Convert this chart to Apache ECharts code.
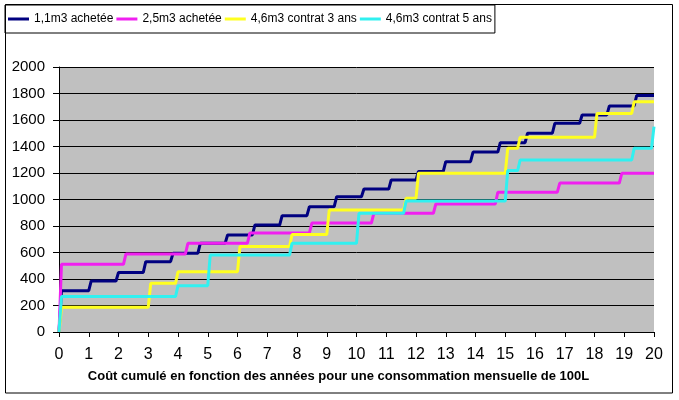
<!DOCTYPE html>
<html>
<head>
<meta charset="utf-8">
<script src="https://cdn.jsdelivr.net/npm/echarts@6/dist/echarts.min.js"></script>
<style>
html,body{margin:0;padding:0;background:#fff;}
#c{width:679px;height:400px;}
</style>
</head>
<body>
<div id="c"></div>
<script>
// ---- data ----
const seriesNames = ['1,1m3 achetée', '2,5m3 achetée', '4,6m3 contrat 3 ans', '4,6m3 contrat 5 ans'];
const xTicks = [0,1,2,3,4,5,6,7,8,9,10,11,12,13,14,15,16,17,18,19,20]; // years
const yTicks = [0,200,400,600,800,1000,1200,1400,1600,1800,2000];

// month at which each cost step starts, and cumulated cost after the step
const navyMonths   = [0, 12, 23, 34, 45, 56, 67, 78, 89, 100, 111, 122, 133, 144, 155, 166, 177, 188, 199, 210, 221, 232];
const navyLevels   = [312, 385, 450, 531, 594, 669, 732, 807, 878, 946, 1021, 1079, 1147, 1212, 1285, 1358, 1429, 1500, 1575, 1638, 1706, 1784];

const magentaMonths = [0, 26, 51, 76, 101, 126, 151, 176, 201, 226];
const magentaLevels = [511, 589, 670, 748, 822, 896, 966, 1055, 1124, 1198];

const yellowMonths = [0, 36, 47, 72, 93, 108, 139, 144, 180, 185, 216, 231];
const yellowLevels = [186, 367, 455, 646, 735, 920, 1009, 1198, 1386, 1469, 1650, 1738];

const cyanMonths   = [0, 47, 60, 93, 120, 139, 180, 185, 231, 239];
const cyanLevels   = [267, 350, 581, 669, 896, 988, 1218, 1298, 1386, 1550];

const xTitle = 'Coût cumulé en fonction des années pour une consommation mensuelle de 100L';

// ---- build step polylines (each step ramps over one month) ----
function buildSteps(months, levels) {
  const pts = [[0, 0]];
  let prev = 0;
  months.forEach((m, i) => {
    pts.push([m / 12, prev]);
    pts.push([(m + 1) / 12, levels[i]]);
    prev = levels[i];
  });
  pts.push([xTicks[xTicks.length - 1], prev]);
  return pts;
}

const colors = ['#000080', '#f020f0', '#ffff20', '#30f0f0'];
const allData = [
  buildSteps(navyMonths, navyLevels),
  buildSteps(magentaMonths, magentaLevels),
  buildSteps(yellowMonths, yellowLevels),
  buildSteps(cyanMonths, cyanLevels)
];

const chart = echarts.init(document.getElementById('c'), null, {renderer: 'canvas'});
const baseFont = "'Liberation Sans', Arial, sans-serif";

chart.setOption({
  animation: false,
  backgroundColor: '#ffffff',
  color: colors,
  legend: {
    data: seriesNames,
    left: 5,
    top: 5,
    padding: [8, 3, 8, 3],
    itemGap: 3,
    itemWidth: 21,
    itemHeight: 3,
    icon: 'rect',
    borderColor: '#000',
    borderWidth: 1,
    borderRadius: 0,
    textStyle: {fontFamily: baseFont, fontSize: 12, color: '#000'}
  },
  grid: {
    left: 59, right: 25, top: 67, bottom: 68,
    show: true, backgroundColor: '#c0c0c0', borderWidth: 0,
    containLabel: false
  },
  xAxis: {
    type: 'value',
    min: xTicks[0],
    max: xTicks[xTicks.length - 1],
    interval: 1,
    axisLine: {show: true, onZero: false, lineStyle: {color: '#000', width: 1}},
    axisTick: {show: true, length: 5, lineStyle: {color: '#000'}},
    axisLabel: {fontFamily: baseFont, fontSize: 16, color: '#000', margin: 15,
                formatter: v => String(v)},
    splitLine: {show: false}
  },
  yAxis: {
    type: 'value',
    min: yTicks[0],
    max: yTicks[yTicks.length - 1],
    interval: 200,
    axisLine: {show: true, lineStyle: {color: '#000', width: 1}},
    axisTick: {show: true, length: 6, lineStyle: {color: '#000'}},
    axisLabel: {fontFamily: baseFont, fontSize: 15, color: '#000', margin: 14,
                formatter: v => String(v)},
    splitLine: {show: true, lineStyle: {color: '#000', width: 1}}
  },
  graphic: [
    {
      type: 'rect',
      shape: {x: 5.5, y: 4.5, width: 667, height: 388.5},
      style: {fill: 'none', stroke: '#000', lineWidth: 1},
      silent: true, z: 100
    },
    {
      type: 'text',
      x: 338.5, y: 376,
      style: {
        text: xTitle,
        font: "bold 13px 'Liberation Sans', Arial, sans-serif",
        fill: '#000',
        textAlign: 'center',
        textVerticalAlign: 'middle'
      },
      silent: true
    }
  ],
  series: seriesNames.map((name, i) => ({
    name: name,
    type: 'line',
    data: allData[i],
    showSymbol: false,
    symbol: 'none',
    lineStyle: {width: 3, color: colors[i]},
    itemStyle: {color: colors[i]},
    emphasis: {disabled: true}
  }))
});
</script>
</body>
</html>
